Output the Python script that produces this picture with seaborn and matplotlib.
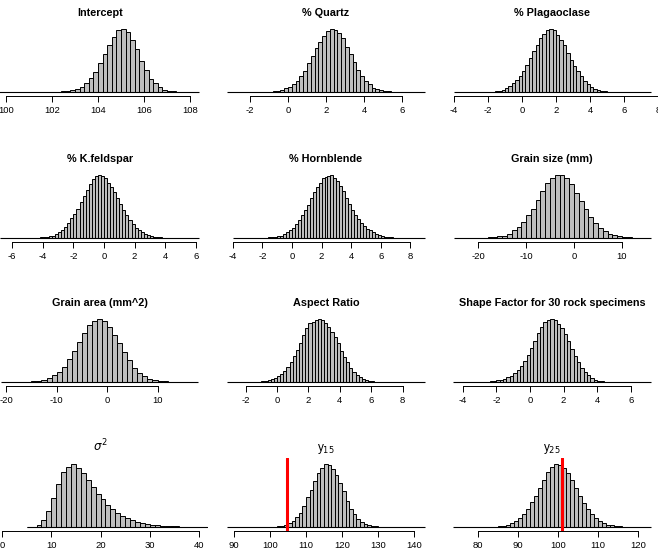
import numpy as np
import pandas as pd
import matplotlib.pyplot as plt
import seaborn as sns

sns.set_style('ticks')
plt.rcParams['font.family'] = ['Liberation Sans', 'DejaVu Sans']
plt.rcParams['text.color'] = 'black'

# panel titles
titles = ['Intercept', '% Quartz', '% Plagaoclase',
          '% K.feldspar', '% Hornblende', 'Grain size (mm)',
          'Grain area (mm^2)', 'Aspect Ratio', 'Shape Factor for 30 rock specimens',
          r'$\sigma^2$', r'$\mathregular{y}_{15}$', r'$\mathregular{y}_{25}$']
bold = [True] * 9 + [False] * 3

# first bin edge and bin width of every histogram
bin_start = [102.0, -1.4, -2.6, -4.8, -2.4, -20, -18, -1.8, -3.0, 5, 98, 81]
bin_width = [0.2, 0.2, 0.2, 0.2, 0.2, 1, 1, 0.2, 0.2, 1, 1, 1]

# bar heights (relative, tallest bar = 100)
h_intercept = [0.2, 0.5, 1, 1.5, 3, 5, 8, 14, 22, 31, 46, 61, 75, 88, 98, 100, 95, 83,
               68, 49, 35, 21, 14, 8, 4, 2, 1, 0.5, 0.3]
h_quartz = [0.1, 0.3, 0.5, 1, 1.5, 3, 6, 8, 12, 17, 26, 33, 46, 57, 70, 80, 89, 97, 100,
            99, 94, 85, 72, 61, 47, 35, 26, 18, 12, 7, 5, 3, 1.5, 1, 0.5, 0.3]
h_plag = [0.1, 0.2, 0.3, 0.4, 0.6, 1, 2, 4, 6, 10, 14, 19, 26, 34, 43, 54, 65, 75, 85,
          92, 98, 100, 98, 91, 82, 74, 62, 51, 42, 33, 25, 18, 12, 8, 5, 3, 2, 1, 0.8,
          0.5, 0.3, 0.2]
h_kfeld = [0.2, 0.4, 0.6, 1, 1.5, 2, 3, 4, 6, 9, 13, 18, 24, 31, 38, 46, 57, 67, 76, 86,
           93, 99, 100, 99, 95, 88, 81, 73, 64, 54, 45, 36, 28, 22, 16, 12, 9, 7, 5, 3,
           2, 1.5, 1, 0.6, 0.4, 0.2]
h_hornb = [0.1, 0.2, 0.4, 0.6, 1, 1.5, 2, 3, 4, 6, 9, 12, 16, 23, 28, 36, 45, 53, 64, 73,
           81, 88, 95, 97, 99, 100, 96, 91, 83, 74, 64, 54, 45, 37, 30, 24, 19, 15, 12,
           9, 7, 5, 3, 2, 1.5, 1, 0.6, 0.4, 0.2]
h_gsize = [0.3, 0.5, 1, 1.5, 2.5, 4, 7, 12, 18, 26, 37, 46, 61, 74, 87, 95, 100, 100, 95,
           86, 72, 59, 46, 33, 24, 16, 11, 7, 5, 3, 1.5, 1, 0.5]
h_garea = [0.2, 0.3, 0.6, 1, 2, 3, 7, 11, 16, 24, 36, 49, 63, 78, 90, 97, 100, 97, 88,
           75, 62, 48, 35, 23, 15, 10, 5, 3, 1.5, 1, 0.5, 0.3]
h_aspect = [0.2, 0.3, 0.5, 0.8, 1.2, 2, 3, 5, 7, 9, 13, 18, 24, 32, 41, 51, 62, 74, 86,
            93, 96, 99, 100, 98, 93, 88, 80, 71, 62, 50, 40, 31, 23, 16, 11, 8, 5, 4, 2,
            1, 0.6, 0.3, 0.2]
h_shape = [0.2, 0.3, 0.6, 1, 1.6, 2.7, 3.7, 5, 7.5, 10, 14, 19, 26, 34, 43, 54, 65, 78,
           88, 95, 98, 100, 98, 92, 86, 76, 65, 52, 41, 32, 23, 16, 11, 7, 4, 2, 1, 0.6,
           0.3, 0.2]
h_sigma2 = [0.2, 0.5, 3, 11, 26, 46, 68, 87, 96, 100, 94, 86, 74, 63, 53, 44, 35, 29, 23,
            17, 14, 11, 8.5, 6.5, 5, 3.7, 2.6, 2.1, 1.6, 1.2, 0.9, 0.7, 0.5, 0.4, 0.3,
            0.2, 0.1]
h_y15 = [0.1, 0.2, 0.4, 0.7, 1.2, 2, 3, 6, 10, 16, 23, 34, 47, 59, 73, 86, 94, 100, 98,
         92, 83, 70, 57, 42, 29, 20, 13, 8.5, 5, 3, 1.6, 1, 0.6, 0.4, 0.2]
h_y25 = [0.1, 0.2, 0.4, 0.7, 1.2, 2, 4, 6, 10, 14, 20, 29, 39, 50, 62, 75, 87, 95, 100,
         98, 94, 86, 74, 62, 50, 38, 29, 20, 14, 10, 6, 4, 2.6, 1.6, 1, 0.5, 0.3, 0.2]
heights = [h_intercept, h_quartz, h_plag, h_kfeld, h_hornb, h_gsize,
           h_garea, h_aspect, h_shape, h_sigma2, h_y15, h_y25]

# full sample range (zero-height tails)
sample_range = [(99.6, 108.4), (-3.2, 7.2), (-4.0, 7.6), (-6.8, 6.2), (-4.0, 9.0), (-25, 16),
                (-21, 18), (-3.2, 9.4), (-4.6, 7.2), (5, 41.6), (88, 143), (73.8, 123.3)]

# observed values marked in red
observed = [None] * 10 + [104.6, 101.0]

# axis limits and tick labels
xlims = [(99.39, 108.78), (-3.58, 7.58), (-4.47, 8.0), (-7.32, 6.8), (-4.86, 9.46),
         (-26.7, 17.5), (-22.8, 20.0), (-3.63, 9.87), (-5.0, 7.62), (-2.03, 41.8),
         (86.1, 145), (72, 125)]
ticks = [[100, 102, 104, 106, 108], [-2, 0, 2, 4, 6], [-4, -2, 0, 2, 4, 6, 8],
         [-6, -4, -2, 0, 2, 4, 6], [-4, -2, 0, 2, 4, 6, 8], [-20, -10, 0, 10],
         [-20, -10, 0, 10], [-2, 0, 2, 4, 6, 8], [-4, -2, 0, 2, 4, 6],
         [0, 10, 20, 30, 40], [90, 100, 110, 120, 130, 140], [80, 90, 100, 110, 120]]

W, H = 658, 558
fig = plt.figure(figsize=(W / 100, H / 100), dpi=100)

col_px = [(-8, 208), (220, 432), (446, 658)]
base_px = [92, 238, 382, 527]

for i in range(12):
    r, c = divmod(i, 3)
    x0, x1 = col_px[c]
    top = base_px[r] - 69
    bot = base_px[r] + 4
    ax = fig.add_axes([x0 / W, 1 - bot / H, (x1 - x0) / W, (bot - top) / H])

    h = np.array(heights[i], dtype=float)
    edges = bin_start[i] + bin_width[i] * np.arange(len(h) + 1)
    centers = (edges[:-1] + edges[1:]) / 2
    df = pd.DataFrame({'x': centers, 'w': h})
    sns.histplot(data=df, x='x', weights='w', bins=list(edges), ax=ax,
                 color='#bebebe', edgecolor='black', linewidth=0.7, alpha=1)
    lo, hi = sample_range[i]
    ax.hlines(0, lo, hi, color='black', lw=0.8)
    if observed[i] is not None:
        ax.axvline(observed[i], color='red', lw=2.2)

    ax.set_xlim(*xlims[i])
    ax.set_ylim(-6.3, 109.5)
    ax.set_xlabel('')
    ax.set_ylabel('')
    ax.set_yticks([])
    ax.set_xticks(ticks[i])
    ax.set_xticklabels([str(t) for t in ticks[i]])
    for s in ['left', 'top', 'right']:
        ax.spines[s].set_visible(False)
    ax.spines['bottom'].set_bounds(ticks[i][0], ticks[i][-1])
    ax.spines['bottom'].set_linewidth(0.7)
    ax.spines['bottom'].set_color('black')
    ax.tick_params(axis='x', direction='out', length=4, width=0.7,
                   labelsize=6.8, pad=3, colors='black')
    ax.patch.set_visible(False)
    ax.set_title(titles[i], fontsize=7.8 if bold[i] else 8.5, color='black',
                 fontweight='bold' if bold[i] else 'normal', pad=5)

plt.savefig('out.png', dpi=100)
